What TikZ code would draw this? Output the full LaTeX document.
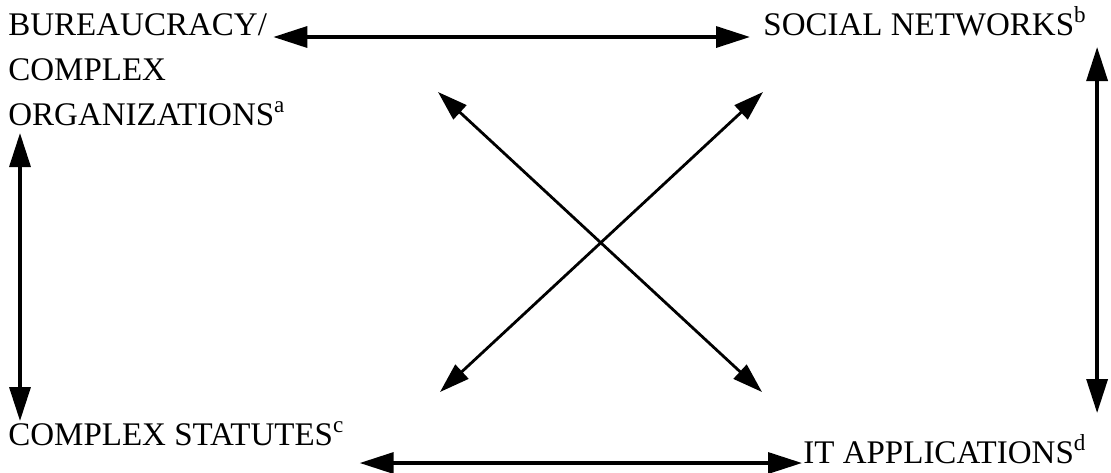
\documentclass[tikz,border=0pt]{standalone}
\usepackage{fontspec}
\setmainfont{Liberation Serif}
\usetikzlibrary{arrows.meta,positioning,calc}

\begin{document}
\begin{tikzpicture}[x=0.5pt, y=-0.5pt,
        concept/.style={inner sep=0pt, anchor=base west, font=\fontsize{16.5pt}{20pt}\selectfont},
        relation/.style={{Triangle[length=17pt,width=10.5pt]}-{Triangle[length=17pt,width=10.5pt]}, line width=1.7pt},
        cross/.style={{Triangle[length=15pt,width=9.5pt]}-{Triangle[length=15pt,width=9.5pt]}, line width=1.4pt}]

    \useasboundingbox (0,0) rectangle (1111,472);

    \node[concept] (bur) at (8,35) {BUREAUCRACY/};
    \node[concept] (cpx) at (8,80) {COMPLEX};
    \node[concept] (org) at (8,125) {ORGANIZATIONS\textsuperscript{a}};
    \node[concept] (soc) at (763,35) {SOCIAL NETWORKS\textsuperscript{b}};
    \node[concept] (stat) at (8,445) {COMPLEX STATUTES\textsuperscript{c}};
    \node[concept] (itapp) at (803,463) {IT APPLICATIONS\textsuperscript{d}};

    \coordinate (nw) at (438,92);
    \coordinate (ne) at (763,92);
    \coordinate (sw) at (440,392);
    \coordinate (se) at (762,392);

    \draw[relation] ($(bur.base east)+(6,2)$) -- ($(soc.base west)+(-13,2)$);
    \draw[relation] ($(stat.base east)+(15,18)$) -- ($(itapp.base west)+(-1,0)$);
    \draw[relation] ($(org.base west)+(12,8)$) -- ($(stat.base west)+(12,-24)$);
    \draw[relation] ($(soc.base east)+(10,12)$) -- ($(soc.base east |- itapp.base)+(10,-50)$);
    \draw[cross] (nw) -- (se);
    \draw[cross] (ne) -- (sw);
\end{tikzpicture}
\end{document}
